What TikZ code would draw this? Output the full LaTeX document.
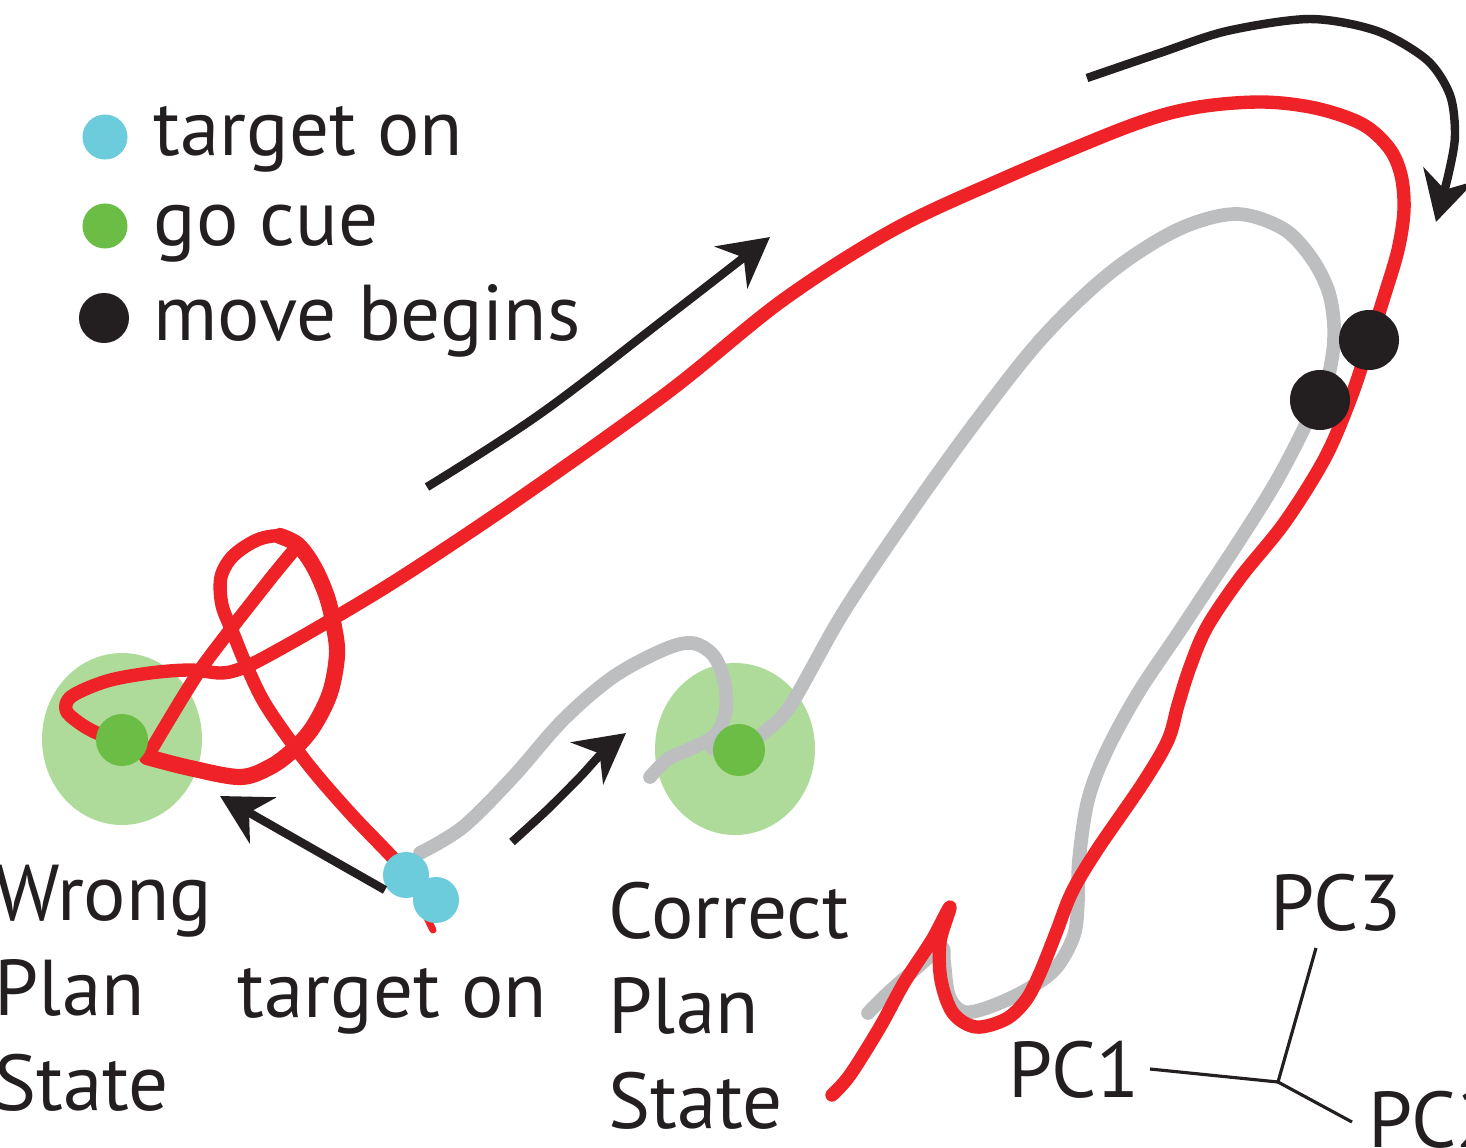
\documentclass[tikz,border=0pt]{standalone}
\usepackage{fontspec}
\setmainfont{PT Sans}
\usetikzlibrary{arrows.meta}
\definecolor{tred}{HTML}{EE2227}
\definecolor{tgray}{HTML}{BCBEC0}
\definecolor{lgreen}{HTML}{AEDB9A}
\definecolor{dgreen}{HTML}{6CBD45}
\definecolor{tcyan}{HTML}{6DCCDC}
\definecolor{tblack}{HTML}{231F20}
\tikzset{
  redtraj/.style={draw=tred, line width=3.8pt, line cap=round, line join=round},
  graytraj/.style={draw=tgray, line width=3.9pt, line cap=round, line join=round},
  flowarrow/.style={draw=tblack, line width=2.4pt, -{Stealth[length=14pt, width=15pt, inset=4.5pt]}},
  axisline/.style={draw=tblack, line width=0.9pt},
  dotnode/.style={circle, inner sep=0pt, draw=none},
  lbl/.style={anchor=base west, inner sep=0pt, text=tblack, font=\fontsize{22.5}{27}\selectfont},
}
\begin{document}
\begin{tikzpicture}[x=0.01cm, y=-0.01cm]
\useasboundingbox (0,0) rectangle (1466,1148);
\clip (0,0) rectangle (1466,1148);

% plan state regions
\fill[lgreen] (122,739) ellipse [x radius=80, y radius=86];
\fill[lgreen] (735,749) ellipse [x radius=80, y radius=86];

% correct trial (gray)
\path[graytraj] plot[smooth, tension=0.55] coordinates {(420,853) (463,827) (513,777) (563,720) (613,677) (663,650) (692,643) (713,655) (724,680) (726,710) (715,735) (690,749) (668,759) (650,777)};
\path[graytraj] plot[smooth, tension=0.55] coordinates {(712,748) (738,750) (767,730) (792,703) (843,613) (910,513) (977,420) (1043,337) (1110,273) (1177,230) (1235,214) (1282,228) (1310,256) (1328,290) (1334,325) (1332,358) (1322,390) (1273,487) (1187,620) (1140,690) (1107,750) (1088,800) (1079,860) (1078,900) (1074,935) (1056,968) (1028,989) (992,1006) (964,1012) (949,996) (944,962) (941,948) (912,972) (888,993) (868,1013)};

% wrong trial (red)
\path[redtraj, line width=2pt] (433,930) -- (406,875);
\path[redtraj] plot[smooth, tension=0.55] coordinates {(406,875) (393,858) (350,813) (307,763) (267,707) (247,667) (233,633) (222,605) (221,577) (233,556) (257,540) (280,536) (298,545)};
\path[redtraj, line width=4.6pt] plot[smooth, tension=0.55] coordinates {(280,536) (298,545) (314,567) (327,597) (334,627) (337,655) (330,693) (313,727) (293,750) (270,767) (240,777) (190,768) (147,757)};
\path[redtraj] plot[smooth, tension=0.4] coordinates {(147,757) (200,670) (267,583) (294,550)};
\path[redtraj] plot[smooth, tension=0.55] coordinates {(122,740) (97,733) (78,722) (66,710) (72,696) (107,681) (150,673) (190,670) (220,673) (237,670) (258,661) (317,628) (400,578) (517,500) (667,393) (783,300) (893,230) (1000,180) (1127,127) (1193,108) (1260,102) (1315,108) (1362,124) (1389,148) (1401,175) (1404,210) (1398,250) (1384,297) (1367,350) (1350,400) (1325,458) (1285,522) (1240,578) (1207,627) (1190,667) (1178,705) (1168,740) (1143,783) (1097,850) (1072,892) (1056,933) (1040,973) (1026,1000) (1006,1019) (976,1027) (953,1013) (941,980) (940,942) (950,907) (932,940) (904,983) (880,1027) (850,1075) (832,1095)};

% event markers
\node[dotnode, fill=dgreen, minimum size=0.52cm] (go1) at (122,740) {};
\node[dotnode, fill=dgreen, minimum size=0.52cm] (go2) at (739,750) {};
\node[dotnode, fill=tcyan, minimum size=0.46cm] (tw) at (406,875) {};
\node[dotnode, fill=tcyan, minimum size=0.46cm] (tc) at (436,900) {};
\node[dotnode, fill=tblack, minimum size=0.60cm] (mw) at (1369,340) {};
\node[dotnode, fill=tblack, minimum size=0.60cm] (mc) at (1320,400) {};

% flow arrows
\draw[flowarrow] plot[smooth, tension=0.5] coordinates {(1087,78) (1160,53) (1227,31) (1310,19) (1377,31) (1427,60) (1450,95) (1455,135) (1449,172) (1436,222)};
\draw[flowarrow] plot[smooth, tension=0.6] coordinates {(427,487) (540,414) (667,317) (770,237)};
\draw[flowarrow] plot[smooth, tension=0.5] coordinates {(512,842) (547,810) (580,777) (603,752) (626,733)};
\draw[flowarrow] (385,890) -- (220,796);

% legend
\node[dotnode, fill=tcyan, minimum size=0.45cm] (lt) at (105,137) {};
\node[dotnode, fill=dgreen, minimum size=0.45cm] (lg) at (105,226) {};
\node[dotnode, fill=tblack, minimum size=0.50cm] (lm) at (104,318) {};
\node[lbl] (ltx) at (153,155) {target on};
\node[lbl] (lgx) at (153,245) {go cue};
\node[lbl] (lmx) at (153,340) {move begins};

% state labels
\node[lbl] (w1) at (-6,920) {Wrong};
\node[lbl] (w2) at (-6,1015) {Plan};
\node[lbl] (w3) at (-6,1110) {State};
\node[lbl] (tlab) at (237,1017) {target on};
\node[lbl] (c1) at (608,938) {Correct};
\node[lbl] (c2) at (608,1033) {Plan};
\node[lbl] (c3) at (608,1128) {State};

% PC axes
\coordinate (o) at (1278,1082);
\coordinate (e1) at (1150,1069);
\coordinate (e3) at (1316,948);
\coordinate (e2) at (1352,1122);
\draw[axisline] (e1) -- (o) -- (e3);
\draw[axisline] (o) -- (e2);
\node[lbl] (pc3) at (1270,930) {PC3};
\node[lbl] (pc1) at (1008,1097) {PC1};
\node[lbl] (pc2) at (1368,1147) {PC2};
\end{tikzpicture}
\end{document}
